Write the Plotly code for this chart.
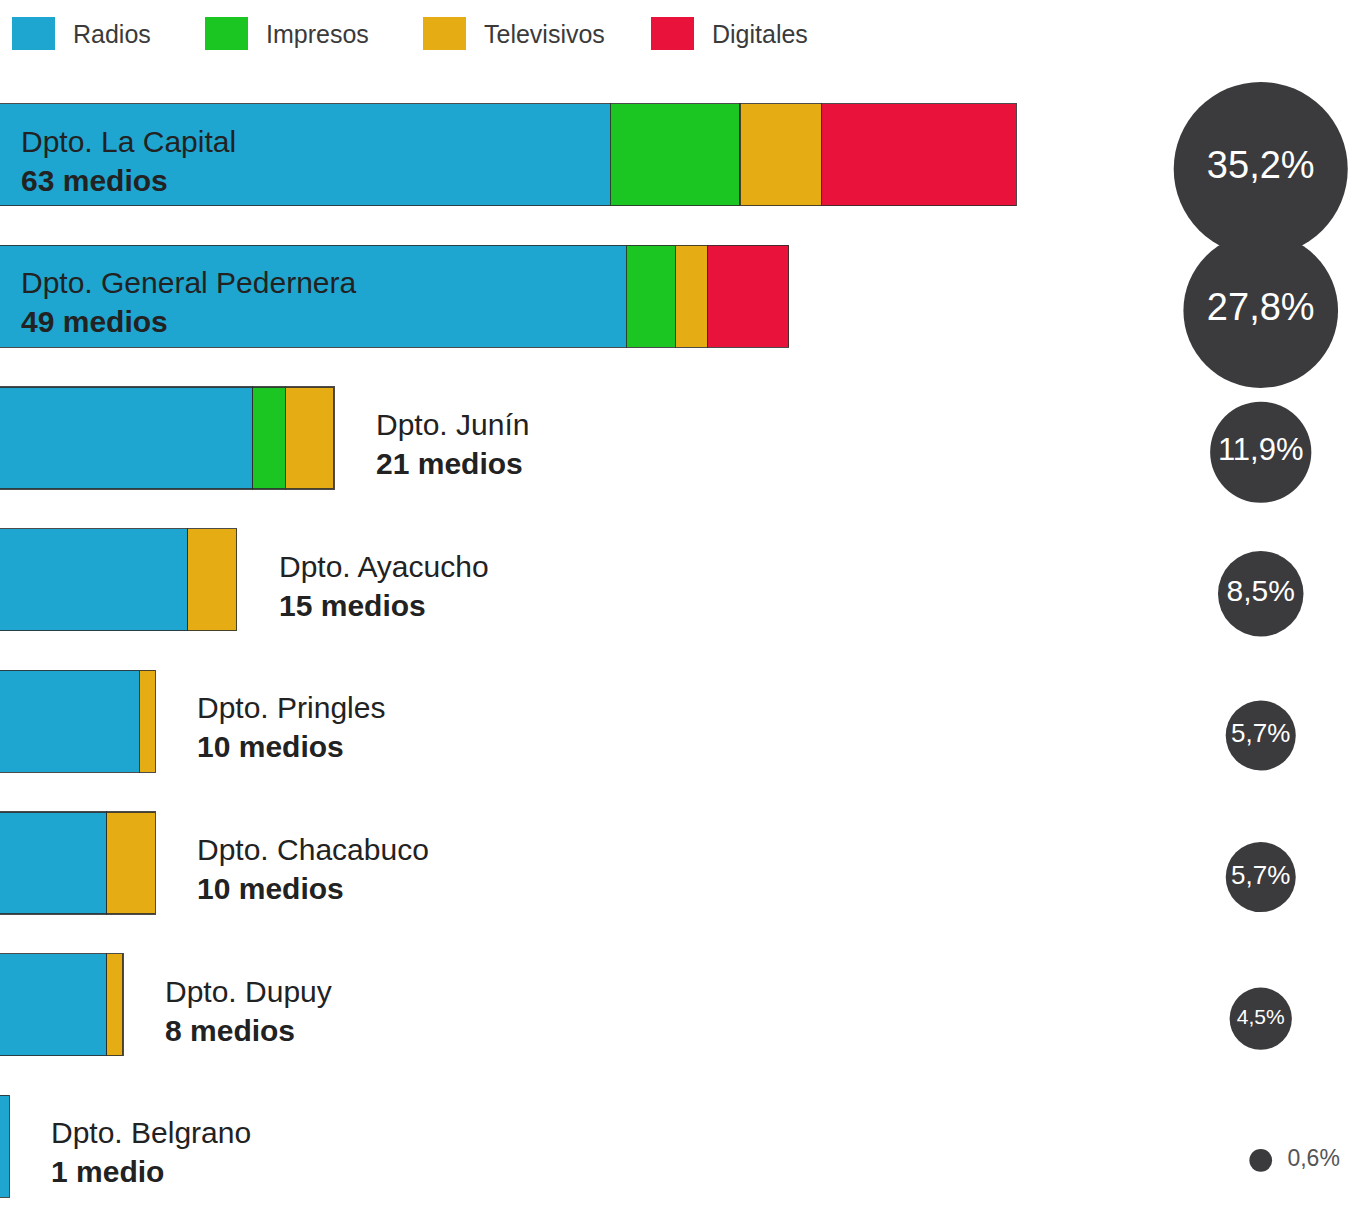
import plotly.graph_objects as go

# ---- data ----
departamentos = ["La Capital", "General Pedernera", "Junín", "Ayacucho",
                 "Pringles", "Chacabuco", "Dupuy", "Belgrano"]
radios = [38, 39, 16, 12, 9, 7, 7, 1]
impresos = [8, 3, 2, 0, 0, 0, 0, 0]
televisivos = [5, 2, 3, 3, 1, 3, 1, 0]
digitales = [12, 5, 0, 0, 0, 0, 0, 0]
porcentajes = [35.2, 27.8, 11.9, 8.5, 5.7, 5.7, 4.5, 0.6]
porcentaje_labels = ["35,2%", "27,8%", "11,9%", "8,5%", "5,7%", "5,7%", "4,5%", "0,6%"]
series_names = ["Radios", "Impresos", "Televisivos", "Digitales"]

# ---- styles ----
colors = ["#1ea6d0", "#1cc622", "#e6ac14", "#e8123a"]
FONT = "Liberation Sans, Arial, sans-serif"
bubble_font_sizes = [38, 38, 31, 30, 26, 26, 21, 23]

series_values = [radios, impresos, televisivos, digitales]
totales = [sum(v) for v in zip(*series_values)]

fig = go.Figure()
for name, vals, col in zip(series_names, series_values, colors):
    fig.add_trace(go.Bar(
        name=name, y=departamentos, x=[v if v else None for v in vals],
        orientation="h", marker=dict(color=col, line=dict(color="rgba(45,45,45,0.85)", width=1.2)),
        showlegend=False, hoverinfo="skip",
    ))

# bubbles
text_pos = ["middle center" if p >= 1 else "middle right" for p in porcentajes]
text_col = ["#ffffff" if p >= 1 else "#555555" for p in porcentajes]
text_disp = [l if p >= 1 else "\u2002" + l for l, p in zip(porcentaje_labels, porcentajes)]
fig.add_trace(go.Scatter(
    x=[0.5] * len(departamentos), y=departamentos, xaxis="x2", yaxis="y2",
    mode="markers+text", cliponaxis=False,
    marker=dict(size=porcentajes, sizemode="area", sizeref=2.325e-3,
                color="#3b3a3d", line=dict(width=0), opacity=1),
    text=text_disp, textposition=text_pos,
    textfont=dict(family=FONT, size=bubble_font_sizes, color=text_col),
    showlegend=False, hoverinfo="skip",
))

# department labels
annotations = []
for d, n, r in zip(departamentos, totales, radios):
    inside = r >= 30
    annotations.append(dict(
        x=0 if inside else n, y=d, xref="paper" if inside else "x", yref="y",
        xanchor="left", yanchor="middle", align="left",
        xshift=19 if inside else 40, yshift=-6,
        text=f"Dpto. {d}<br><b>{n} {'medio' if n == 1 else 'medios'}</b>",
        showarrow=False, font=dict(family=FONT, size=30, color="#222222"),
    ))

# manual legend (large swatches)
W, H = 1352, 1217
TOP, BOT = 84, 0
plot_h = H - TOP - BOT
def py(p):
    return (H - BOT - p) / plot_h
legend_x = [12, 205, 423, 651]
shapes = []
for name, col, lx in zip(series_names, colors, legend_x):
    shapes.append(dict(type="rect", xref="paper", yref="paper",
                       x0=lx / W, x1=(lx + 43) / W, y0=py(50), y1=py(17),
                       fillcolor=col, line=dict(width=0)))
    annotations.append(dict(x=(lx + 59) / W, y=py(34), xref="paper", yref="paper",
                            xanchor="left", yanchor="middle", text=name, showarrow=False,
                            font=dict(family=FONT, size=25, color="#3a3a3a")))

fig.update_layout(
    width=W, height=H, barmode="stack", bargap=0.28,
    margin=dict(l=0, r=0, t=TOP, b=BOT, pad=0),
    paper_bgcolor="white", plot_bgcolor="white",
    xaxis=dict(range=[0.431, 83.68], visible=False, fixedrange=True, domain=[0, 1]),
    yaxis=dict(categoryorder="array", categoryarray=departamentos,
               range=[7.5, -0.5], visible=False),
    xaxis2=dict(domain=[0.87, 0.995], range=[0, 1], visible=False, anchor="y2"),
    yaxis2=dict(overlaying="y", categoryorder="array", categoryarray=departamentos,
                range=[7.4, -0.6], visible=False, anchor="x2"),
    annotations=annotations, shapes=shapes, showlegend=False,
    hovermode=False,
)

fig.write_html("out.html", config={"displayModeBar": False},
               post_script="document.body.style.margin='0';document.body.style.overflow='hidden';")
